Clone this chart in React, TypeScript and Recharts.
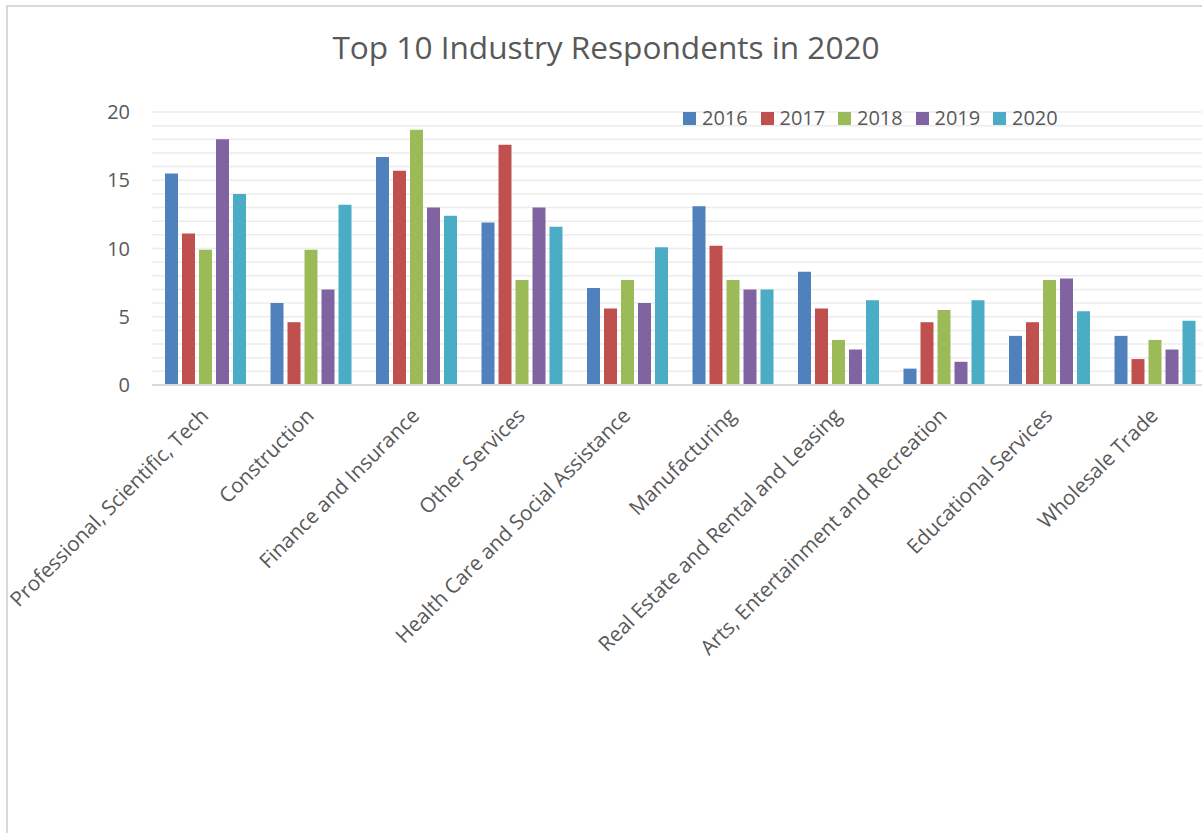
import React from "react";
import { BarChart, Bar, XAxis, YAxis, CartesianGrid, Legend } from "recharts";

const categories = [
  "Professional, Scientific, Tech",
  "Construction",
  "Finance and Insurance",
  "Other Services",
  "Health Care and Social Assistance",
  "Manufacturing",
  "Real Estate and Rental and Leasing",
  "Arts, Entertainment and Recreation",
  "Educational Services",
  "Wholesale Trade",
];

const years = ["2016", "2017", "2018", "2019", "2020"];

const v2016 = [15.5, 6.0, 16.7, 11.9, 7.1, 13.1, 8.3, 1.2, 3.6, 3.6];
const v2017 = [11.1, 4.6, 15.7, 17.6, 5.6, 10.2, 5.6, 4.6, 4.6, 1.9];
const v2018 = [9.9, 9.9, 18.7, 7.7, 7.7, 7.7, 3.3, 5.5, 7.7, 3.3];
const v2019 = [18.0, 7.0, 13.0, 13.0, 6.0, 7.0, 2.6, 1.7, 7.8, 2.6];
const v2020 = [14.0, 13.2, 12.4, 11.6, 10.1, 7.0, 6.2, 6.2, 5.4, 4.7];

const yTicks = [0, 1, 2, 3, 4, 5, 6, 7, 8, 9, 10, 11, 12, 13, 14, 15, 16, 17, 18, 19, 20];
const yLabels = [0, 5, 10, 15, 20];

const colors = ["#4F81BD", "#C0504D", "#9BBB59", "#8064A2", "#4BACC6"];

const title = "Top 10 Industry Respondents in 2020";

const seriesValues = [v2016, v2017, v2018, v2019, v2020];
const data = categories.map((c, i) => {
  const row: Record<string, any> = { name: c };
  years.forEach((y, k) => {
    row[y] = seriesValues[k][i];
  });
  return row;
});

const FONT = "'Open Sans', 'DejaVu Sans', sans-serif";
const TEXT = "#595959";

const YTick = (props: any) => {
  const { x, y, payload } = props;
  if (!yLabels.includes(payload.value)) return null;
  return (
    <text x={x} y={y} dy={7} textAnchor="end" fontFamily={FONT} fontSize={20} fill={TEXT}>
      {payload.value}
    </text>
  );
};

const XTick = (props: any) => {
  const { x, y, payload } = props;
  return (
    <text
      transform={`translate(${x + 5},${y + 32}) rotate(-45)`}
      textAnchor="end"
      fontFamily={FONT}
      fontSize={20.6}
      fill={TEXT}
    >
      {payload.value}
    </text>
  );
};

const LegendContent = () => (
  <div style={{ display: "flex", fontFamily: FONT, fontSize: 20, color: TEXT }}>
    {years.map((y, i) => (
      <div key={y} style={{ display: "flex", alignItems: "center", width: 77.5 }}>
        <div style={{ width: 13, height: 13, background: colors[i], marginRight: 6 }} />
        <span style={{ lineHeight: "20px" }}>{y}</span>
      </div>
    ))}
  </div>
);

export default function App() {
  return (
    <div
      style={{
        position: "absolute",
        left: 0,
        top: 0,
        width: 1202,
        height: 833,
        overflow: "hidden",
        background: "#fff",
      }}
    >
      <div
        style={{
          position: "absolute",
          left: 6,
          top: 5,
          width: 1300,
          height: 900,
          borderLeft: "2px solid #d9d9d9",
          borderTop: "2px solid #d9d9d9",
        }}
      />
      <svg style={{ position: "absolute", left: 0, top: 0 }} width={1202} height={80}>
        <text x={606} y={59} textAnchor="middle" fontFamily={FONT} fontSize={31.6} fill={TEXT}>
          {title}
        </text>
      </svg>
      <div style={{ position: "absolute", left: 0, top: 0 }}>
        <BarChart
          width={1240}
          height={833}
          data={data}
          margin={{ top: 112, right: 33, left: 92, bottom: 0 }}
          barCategoryGap={13}
          barGap={4}
        >
          <CartesianGrid horizontal={true} vertical={false} stroke="#ececec" strokeWidth={1.5} />
          <XAxis
            dataKey="name"
            interval={0}
            height={428}
            tickLine={false}
            tickSize={0}
            tickMargin={0}
            axisLine={{ stroke: "#d9d9d9", strokeWidth: 2 }}
            tick={<XTick />}
          />
          <YAxis
            width={60}
            domain={[0, 20]}
            ticks={yTicks}
            interval={0}
            axisLine={false}
            tickLine={false}
            tickSize={0}
            tickMargin={22}
            tick={<YTick />}
          />
          <Legend
            content={<LegendContent />}
            wrapperStyle={{ position: "absolute", left: 683, top: 108, width: 400 }}
          />
          {years.map((y, i) => (
            <Bar key={y} dataKey={y} fill={colors[i]} isAnimationActive={false} />
          ))}
        </BarChart>
      </div>
    </div>
  );
}
